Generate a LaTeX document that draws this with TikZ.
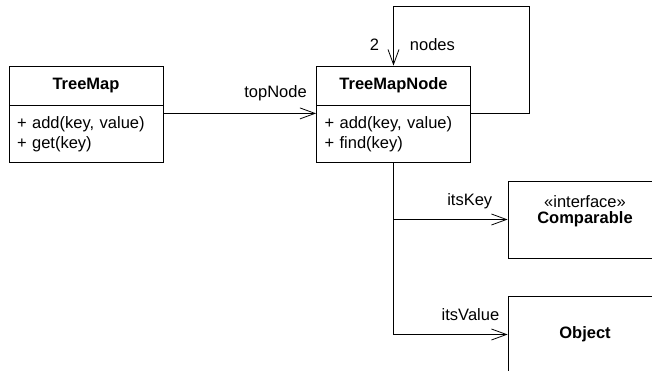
\documentclass[tikz,border=0pt]{standalone}
\usepackage{fontspec}
\setmainfont{Liberation Sans}
\usetikzlibrary{positioning,arrows.meta}

\begin{document}
\begin{tikzpicture}[x=1pt,y=1pt,line width=0.8pt,
        font=\fontsize{16.5}{20}\selectfont,
        classname/.style={draw,minimum width=154pt,minimum height=39pt,inner sep=0pt,
            font=\fontsize{16.5}{20}\selectfont\bfseries},
        classops/.style={draw,text width=138pt,inner xsep=8pt,inner ysep=0pt,
            minimum height=57pt,align=left},
        classbox/.style={draw,minimum width=154pt,minimum height=77pt,inner sep=0pt},
        rolelbl/.style={inner sep=0pt},
        assoc/.style={-{Straight Barb[length=15pt,width=11pt]}}]
            \useasboundingbox (0,0) rectangle (652,371);
            \clip (0,0) rectangle (652,371);

            % classes
            \node [classname] (tm) at (86,285.5) {TreeMap};
            \node [classops,below=0pt of tm] (tmops) {+ add(key, value)\\+ get(key)};

            \node [classname] (tn) at (393.5,285.5) {TreeMapNode};
            \node [classops,below=0pt of tn] (tnops) {+ add(key, value)\\+ find(key)};

            \node [classbox] (cmp) at (585,151.5) {};
            \node [rolelbl] (stereo) at ([yshift=-21pt]cmp.north) {«interface»};
            \node [rolelbl,font=\fontsize{16.5}{20}\selectfont\bfseries] (cmpname)
                at ([yshift=-39pt]cmp.north) {Comparable};

            \node [classbox,font=\fontsize{16.5}{20}\selectfont\bfseries] (obj) at (585,36.5) {Object};

            % associations
            \draw [assoc] ([yshift=-8pt]tmops.north east) -- ([yshift=-8pt]tnops.north west);
            \node [rolelbl,above left=4pt and 9pt of tnops.north west] (toplbl) {topNode};

            \draw [assoc] ([yshift=-8pt]tnops.north east) -|
                          ([xshift=58pt,yshift=59pt]tn.north east) -| (tn.north);
            \node [rolelbl,above left=15pt and 14pt of tn.north] (mult) {2};
            \node [rolelbl,above right=15pt and 16pt of tn.north] (looplbl) {nodes};

            \draw [assoc] (tnops.south) |- (cmp.west);
            \draw [assoc] (tnops.south) |- (obj.west);
            \node [rolelbl,above left=10pt and 15pt of cmp.west] (keylbl) {itsKey};
            \node [rolelbl,above left=13pt and 8pt of obj.west] (vallbl) {itsValue};
        \end{tikzpicture}
\end{document}
